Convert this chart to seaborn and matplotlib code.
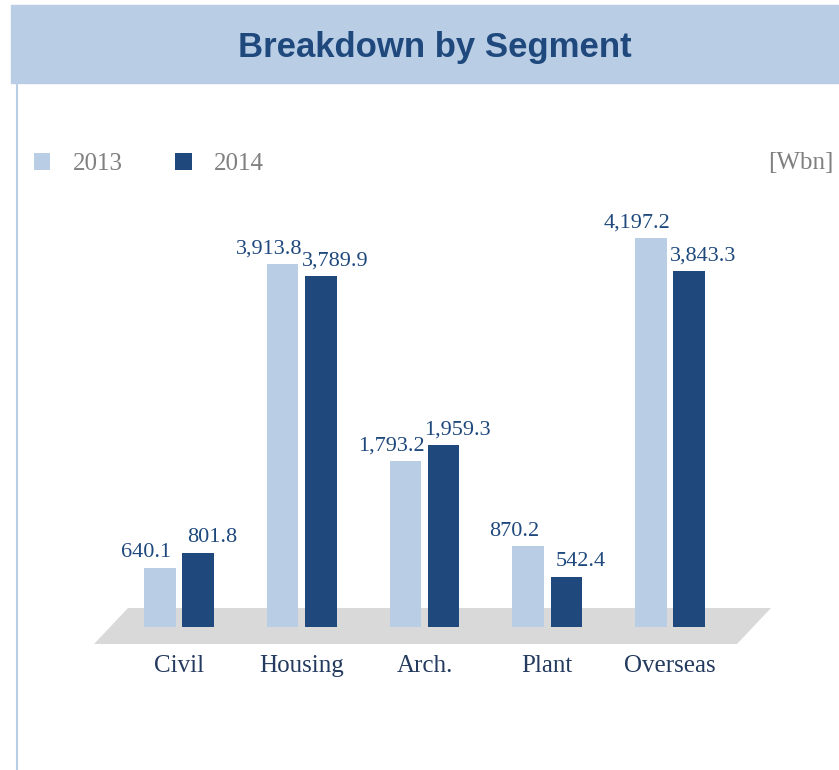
import pandas as pd
import matplotlib.pyplot as plt
import seaborn as sns
from matplotlib.patches import Polygon, Rectangle
from matplotlib.lines import Line2D

# Datos del gráfico
segmentos = ['Civil', 'Housing', 'Arch.', 'Plant', 'Overseas']
valores_2013 = [640.1, 3913.8, 1793.2, 870.2, 4197.2]
valores_2014 = [801.8, 3789.9, 1959.3, 542.4, 3843.3]
anios = ['2013', '2014']

df = pd.DataFrame({
    'Segmento': segmentos * 2,
    'Valor': valores_2013 + valores_2014,
    'Año': [anios[0]] * 5 + [anios[1]] * 5,
})

azul_claro = '#b9cde5'
azul_oscuro = '#1f497d'

sns.set_style("white")
plt.rcParams['font.family'] = ['Liberation Serif', 'DejaVu Serif']

W, H = 839, 770
fig = plt.figure(figsize=(W / 100, H / 100), dpi=100)

# Cabecera
fig.patches.append(Rectangle((11 / W, 1 - 83 / H), 1 - 11 / W, 78 / H,
                             transform=fig.transFigure, color=azul_claro, zorder=0))
fig.lines.append(Line2D([17 / W, 17 / W], [0, 1 - 83 / H], transform=fig.transFigure,
                        color=azul_claro, lw=1.5))
fig.text(435 / W, 1 - 48 / H, 'Breakdown by Segment', ha='center', va='center',
         fontsize=25, fontweight='bold', color=azul_oscuro, family='Liberation Sans')
fig.text(833 / W, 1 - 163 / H, '[Wbn]', ha='right', va='center', fontsize=18, color='#808080')

# Ejes
px_unidad = 389 / 4197.2
ylim_sup = 4500
xmin = -179 / 122.75
xmax = xmin + W / 122.75
ax = fig.add_axes([0, 143 / H, 1, ylim_sup * px_unidad / H])
ax.patch.set_alpha(0)

sns.barplot(data=df, x='Segmento', y='Valor', hue='Año', order=segmentos,
            palette=[azul_claro, azul_oscuro], width=0.623, gap=0.18,
            saturation=1, linewidth=0, ax=ax, zorder=2)

ax.set_xlim(xmin, xmax)
ax.set_ylim(0, ylim_sup)
sns.despine(ax=ax, left=True, bottom=True)
ax.set_yticks([])
ax.set_xlabel('')
ax.set_ylabel('')
ax.tick_params(axis='x', length=0, pad=20, labelsize=18, labelcolor='#243a5e')

# Etiquetas de valor, separadas hacia fuera para que no se pisen
for cont, dx in zip(ax.containers, [-10, 10]):
    anots = ax.bar_label(cont, labels=[f'{v:,.1f}' for v in cont.datavalues],
                         padding=4, fontsize=16, color=azul_oscuro)
    for a in anots:
        a.xyann = (dx, 4)

# Suelo gris
suelo = Polygon([(94 / W, 1 - 644 / H), (737 / W, 1 - 644 / H),
                 (771 / W, 1 - 608 / H), (128 / W, 1 - 608 / H)],
                closed=True, transform=fig.transFigure, facecolor='#d9d9d9',
                edgecolor='none', clip_on=False, zorder=1)
ax.add_patch(suelo)

# Leyenda
sns.move_legend(ax, 'center left', bbox_to_anchor=(34 / W, 1 - 164 / H),
                bbox_transform=fig.transFigure, ncol=2, frameon=False, title=None,
                fontsize=18, handlelength=0.65, handleheight=0.65, handletextpad=0.9,
                columnspacing=2.1, borderpad=0, borderaxespad=0)
for t in ax.get_legend().get_texts():
    t.set_color('#808080')

plt.savefig('out.png', dpi=100)
